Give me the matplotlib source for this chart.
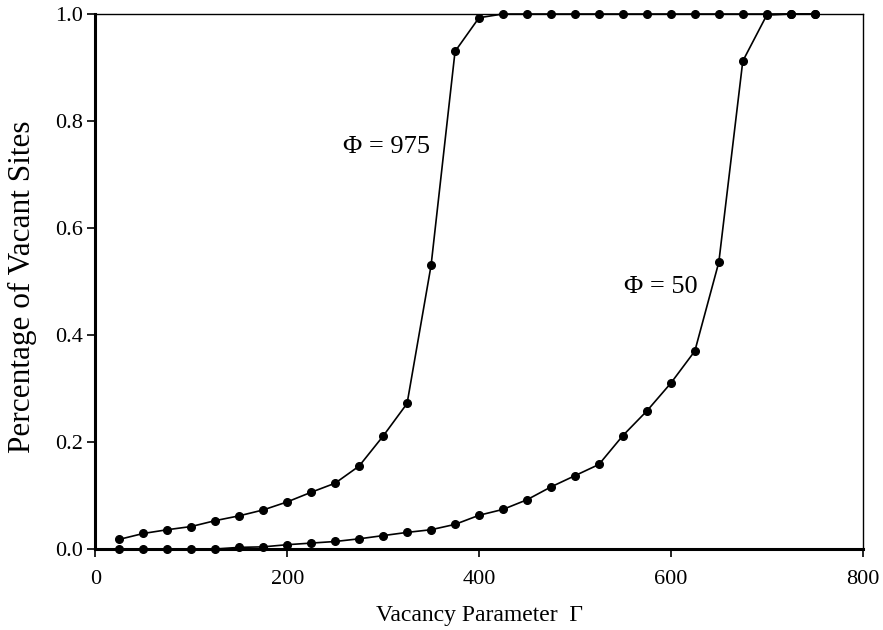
import matplotlib.pyplot as plt

plt.rcParams['font.family'] = ['Liberation Serif', 'DejaVu Serif']

# Vacancy parameter values (shared by both runs)
gamma = [25, 50, 75, 100, 125, 150, 175, 200, 225, 250, 275, 300, 325, 350,
         375, 400, 425, 450, 475, 500, 525, 550, 575, 600, 625, 650, 675,
         700, 725, 750]

# Fraction of vacant sites, phi = 975
vac_975 = [0.018, 0.029, 0.036, 0.042, 0.053, 0.062, 0.073, 0.088, 0.106,
           0.123, 0.155, 0.211, 0.272, 0.530, 0.930, 0.993, 1.0, 1.0, 1.0,
           1.0, 1.0, 1.0, 1.0, 1.0, 1.0, 1.0, 1.0, 1.0, 1.0, 1.0]

# Fraction of vacant sites, phi = 50
vac_50 = [0.0, 0.0, 0.0, 0.0, 0.0, 0.003, 0.004, 0.008, 0.011, 0.014,
          0.019, 0.025, 0.031, 0.036, 0.046, 0.063, 0.074, 0.092, 0.116,
          0.137, 0.158, 0.212, 0.258, 0.310, 0.370, 0.536, 0.912, 0.998,
          1.0, 1.0]

fig = plt.figure(figsize=(8.83, 6.3), dpi=100)
ax = fig.add_axes([0.108, 0.1286, 0.869, 0.8492])

for ys in (vac_975, vac_50):
    ax.plot(gamma, ys, color='black', lw=1.2, marker='o', markersize=5.5,
            clip_on=False, zorder=3)

ax.text(258, 0.751, '\u03a6 = 975', fontsize=19, va='center', ha='left')
ax.text(551, 0.490, '\u03a6 = 50', fontsize=19, va='center', ha='left')

ax.set_xlim(0, 800)
ax.set_ylim(0, 1.0)
ax.set_xticks([0, 200, 400, 600, 800])
ax.set_yticks([0.0, 0.2, 0.4, 0.6, 0.8, 1.0])
ax.set_yticklabels(['0.0', '0.2', '0.4', '0.6', '0.8', '1.0'])
ax.tick_params(axis='both', direction='out', length=6, width=1.2,
               labelsize=16, top=False, right=False)
ax.tick_params(axis='x', pad=9)
ax.tick_params(axis='y', pad=3)

ax.spines['left'].set_linewidth(2.2)
ax.spines['bottom'].set_linewidth(2.2)
ax.spines['top'].set_linewidth(1.0)
ax.spines['right'].set_linewidth(1.0)

ax.set_xlabel('Vacancy Parameter  \u0393', fontsize=17)
ax.set_ylabel('Percentage of Vacant Sites', fontsize=22.5)
ax.xaxis.set_label_coords(0.5, -0.125, transform=ax.transAxes)
ax.yaxis.set_label_coords(-0.095, 0.49, transform=ax.transAxes)
ax.xaxis.label.set_va('center')
ax.yaxis.label.set_va('center')

plt.savefig('out.png', dpi=100)
